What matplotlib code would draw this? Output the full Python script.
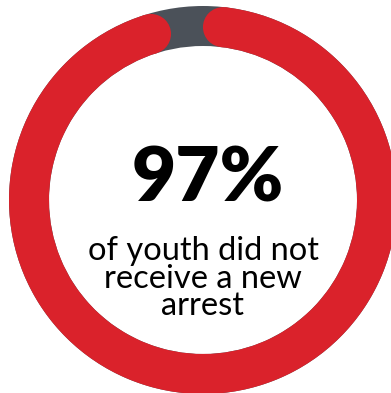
import numpy as np
import matplotlib
matplotlib.use("Agg")
import matplotlib.pyplot as plt
from matplotlib.patches import Wedge, Circle

# Share of youth with no new arrest
share_pct = 97
remaining_pct = 100 - share_pct
headline = f"{share_pct}%"
caption_lines = ["of youth did not", "receive a new", "arrest"]

RED = "#DA222B"
TRACK = "#4B5159"

W, H = 391, 393
fig = plt.figure(figsize=(W / 100, H / 100), dpi=100)
ax = fig.add_axes([0, 0, 1, 1])
ax.set_xlim(0, W)
ax.set_ylim(0, H)
ax.set_aspect("equal")
ax.axis("off")

cx, cy = 203, H - 200
r_out, r_in = 194, 154
ring_w = r_out - r_in
r_mid = (r_out + r_in) / 2

# background track (shows through where the arc is not drawn)
ax.add_patch(Wedge((cx, cy), r_out, 0, 360, width=ring_w, color=TRACK, lw=0))

# progress arc: starts at 12 o'clock and runs clockwise for share_pct of the circle
sweep = 360 * share_pct / 100
start = 90.0
end = start - sweep                      # clockwise end angle
cap = np.degrees((ring_w / 2) / r_mid)   # angular size of the rounded cap
theta1 = end + cap + 360
theta2 = start + 360 - cap
ax.add_patch(Wedge((cx, cy), r_out, theta1, theta2, width=ring_w, color=RED, lw=0))
for ang in (theta1, theta2):
    a = np.radians(ang)
    ax.add_patch(Circle((cx + r_mid * np.cos(a), cy + r_mid * np.sin(a)),
                        ring_w / 2, color=RED, lw=0))

ax.text(208, H - 202, headline, ha="center", va="baseline",
        fontsize=55, fontweight="heavy", family="Lato", color="black")

for i, line in enumerate(caption_lines):
    ax.text(203, H - (260 + 27.5 * i), line, ha="center", va="baseline",
            fontsize=23.5, fontweight="normal", family="Lato", color="black")

fig.savefig("out.png", dpi=100)
